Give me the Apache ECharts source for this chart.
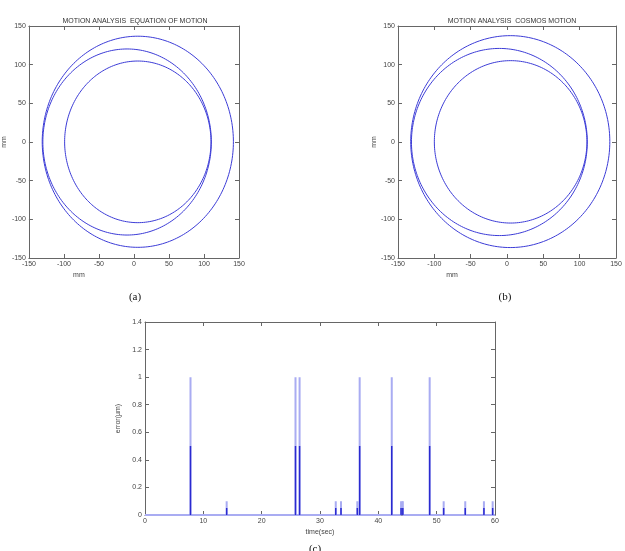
<!DOCTYPE html>
<html>
<head>
<meta charset="utf-8">
<script src="https://cdn.jsdelivr.net/npm/echarts@6/dist/echarts.min.js"></script>
<style>
  html, body { margin: 0; padding: 0; background: #fff; }
  #motionChart { width: 625px; height: 551px; }
</style>
</head>
<body>
<div id="motionChart"></div>
<script>
// circle paths (a): [centerX, centerY, radius] in mm
const eqCircles = [
  [5.5, 0.3, 136.5],
  [-9.8, 0, 120.3],
  [5.5, 0.2, 104.5]
];
// circle paths (b)
const cosmosCircles = [
  [4.5, 0.5, 137],
  [-10.5, 0, 121],
  [5, 0.2, 105]
];
const mmTicks = [-150, 150, 50];

// error spikes (c)
const spikeTimes = [7.8, 14.0, 25.8, 26.5, 32.7, 33.6, 36.4, 36.8, 42.3, 43.9, 44.2, 48.8, 51.2, 54.9, 58.1, 59.6];
const spikePeak = [1, 0.1, 1, 1, 0.1, 0.1, 0.1, 1, 1, 0.1, 0.1, 1, 0.1, 0.1, 0.1, 0.1];
const spikeHalf = [0.5, 0.05, 0.5, 0.5, 0.05, 0.05, 0.05, 0.5, 0.5, 0.05, 0.05, 0.5, 0.05, 0.05, 0.05, 0.05];
const timeRange = [0, 60];

let chart = echarts.init(document.getElementById("motionChart"));

const font = "Liberation Sans, Arial, sans-serif";
const axisColor = "#666";
const lineBlue = "#3b3bd6";
const lightBlue = "#a9acf2";

function axisBase(extra) {
  return Object.assign({
    type: "value",
    axisLine: { show: true, onZero: false, lineStyle: { color: axisColor, width: 1 } },
    axisTick: { show: true, inside: true, length: 4, lineStyle: { color: axisColor } },
    axisLabel: { show: true, fontSize: 7, color: "#444", fontFamily: font, margin: 3 },
    splitLine: { show: false }
  }, extra);
}
function mirrorAxis(extra) {
  let a = axisBase(extra);
  a.axisLabel = { show: false };
  return a;
}

// build spike polylines
let peakLine = [[timeRange[0], 0]];
let halfLine = [];
spikeTimes.forEach((t, i) => {
  peakLine.push([t, 0], [t, spikePeak[i]], [t, 0]);
  halfLine.push([t, 0], [t, spikeHalf[i]], "-");
});
peakLine.push([timeRange[1], 0]);

function circleItem(params, api) {
  const cx = api.value(0), cy = api.value(1), r = api.value(2);
  let pts = [];
  for (let k = 0; k <= 240; k++) {
    const a = (k / 240) * Math.PI * 2;
    pts.push(api.coord([cx + r * Math.cos(a), cy + r * Math.sin(a)]));
  }
  return {
    type: "polyline",
    shape: { points: pts },
    style: { stroke: lineBlue, fill: null, lineWidth: 1 }
  };
}

const nameStyle = { fontSize: 7, color: "#444", fontFamily: font };
const serifStyle = { fontSize: 11, fontWeight: "normal", color: "#111", fontFamily: "Liberation Serif, Times New Roman, serif" };
const titleStyle = { fontSize: 7, fontWeight: "normal", color: "#333", fontFamily: font };

const option = {
  animation: false,
  title: [
    { text: "MOTION ANALYSIS  EQUATION OF MOTION", left: 130, top: 13, textAlign: "center", textStyle: titleStyle },
    { text: "MOTION ANALYSIS  COSMOS MOTION", left: 507, top: 13, textAlign: "center", textStyle: titleStyle },
    { text: "(a)", left: 130, top: 287, textAlign: "center", textStyle: serifStyle },
    { text: "(b)", left: 500, top: 287, textAlign: "center", textStyle: serifStyle },
    { text: "(c)", left: 310, top: 539, textAlign: "center", textStyle: serifStyle }
  ],
  grid: [
    { left: 21, top: 26, width: 218, height: 232 },
    { left: 398, top: 26, width: 218, height: 232 },
    { left: 145, top: 322, width: 350, height: 193 }
  ],
  xAxis: [
    axisBase({ gridIndex: 0, min: mmTicks[0], max: mmTicks[1], interval: mmTicks[2],
      name: "mm", nameLocation: "middle", nameGap: 14,
      nameTextStyle: Object.assign({ padding: [0, 110, 0, 0] }, nameStyle) }),
    mirrorAxis({ gridIndex: 0, position: "top", min: mmTicks[0], max: mmTicks[1], interval: mmTicks[2] }),
    axisBase({ gridIndex: 1, min: mmTicks[0], max: mmTicks[1], interval: mmTicks[2],
      name: "mm", nameLocation: "middle", nameGap: 14,
      nameTextStyle: Object.assign({ padding: [0, 110, 0, 0] }, nameStyle) }),
    mirrorAxis({ gridIndex: 1, position: "top", min: mmTicks[0], max: mmTicks[1], interval: mmTicks[2] }),
    axisBase({ gridIndex: 2, min: timeRange[0], max: timeRange[1], interval: 10, name: "time(sec)",
      nameLocation: "middle", nameGap: 14, nameTextStyle: nameStyle }),
    mirrorAxis({ gridIndex: 2, position: "top", min: timeRange[0], max: timeRange[1], interval: 10 })
  ],
  yAxis: [
    axisBase({ gridIndex: 0, min: mmTicks[0], max: mmTicks[1], interval: mmTicks[2],
      name: "mm", nameLocation: "middle", nameGap: 15, nameTextStyle: nameStyle }),
    mirrorAxis({ gridIndex: 0, position: "right", min: mmTicks[0], max: mmTicks[1], interval: mmTicks[2] }),
    axisBase({ gridIndex: 1, min: mmTicks[0], max: mmTicks[1], interval: mmTicks[2],
      name: "mm", nameLocation: "middle", nameGap: 20, nameTextStyle: nameStyle }),
    mirrorAxis({ gridIndex: 1, position: "right", min: mmTicks[0], max: mmTicks[1], interval: mmTicks[2] }),
    axisBase({ gridIndex: 2, min: 0, max: 1.4, interval: 0.2, name: "error(µm)", nameLocation: "middle", nameGap: 22,
      nameTextStyle: nameStyle }),
    mirrorAxis({ gridIndex: 2, position: "right", min: 0, max: 1.4, interval: 0.2 })
  ],
  series: [
    {
      name: "equation of motion",
      type: "custom",
      xAxisIndex: 0,
      yAxisIndex: 0,
      renderItem: circleItem,
      data: eqCircles
    },
    {
      name: "cosmos motion",
      type: "custom",
      xAxisIndex: 2,
      yAxisIndex: 2,
      renderItem: circleItem,
      data: cosmosCircles
    },
    {
      name: "error peak",
      type: "line",
      xAxisIndex: 4,
      yAxisIndex: 4,
      showSymbol: false,
      lineStyle: { color: lightBlue, width: 2 },
      data: peakLine
    },
    {
      name: "error half",
      type: "line",
      xAxisIndex: 4,
      yAxisIndex: 4,
      showSymbol: false,
      connectNulls: false,
      lineStyle: { color: "#2a2ad0", width: 1.5 },
      data: halfLine
    }
  ]
};

chart.setOption(option);

window.addEventListener("resize", function() {
  chart.resize();
});
</script>
</body>
</html>
